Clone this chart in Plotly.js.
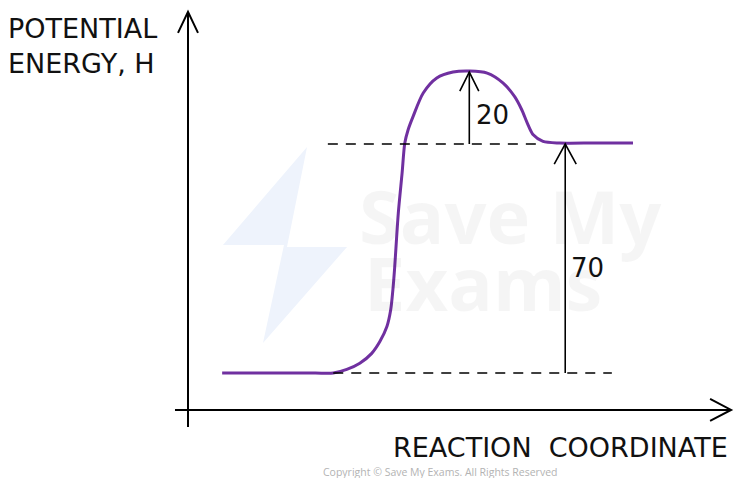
<!DOCTYPE html>
<html>
<head>
<meta charset="utf-8">
<script src="https://cdn.plot.ly/plotly-3.0.1.min.js"></script>
<style>
html,body{margin:0;padding:0;background:#fff;}
#chart{width:734px;height:478px;}
</style>
</head>
<body>
<div id="chart"></div>
<script>
// ---- Data ----
// Reaction coordinate (arbitrary units, axis origin = 0, arrow tip ≈ 100)
const reactionCoord = [6.3, 16.0, 23.5, 26.8, 29.3, 31.7, 33.9, 35.4, 36.7, 37.4, 37.8, 38.1, 38.8, 39.5, 40.0, 40.6, 41.5, 43.4, 45.9, 48.9, 52.0, 55.2, 58.1, 60.3, 61.6, 62.6, 63.7, 65.5, 68.6, 75.0, 82.1];
// Potential energy along the path (relative to reactants)
const energy = [0, 0, 0, 0, 1.1, 3.0, 6.0, 9.6, 14.2, 19.3, 25.4, 31.5, 48.9, 61.1, 70.3, 74.3, 78.3, 85.6, 90.2, 92.0, 92.3, 91.7, 88.7, 84.4, 80.4, 76.4, 72.8, 70.8, 70.3, 70.3, 70.3];
const reactantEnergy = 0;
const productEnergy = 70;
const peakEnergy = 92;
const activationLabel = '20';
const enthalpyLabel = '70';
const activationArrowX = 51.9;
const enthalpyArrowX = 69.6;
const productDashStart = 25.8;
const productDashEnd = 65.5;
const reactantDash = [26.8, 78.2];
const axisXRange = [-2.4, 100.2];
const axisYRange = [-16.5, 110.4];
const axisXLevel = -11.3;
const xTitle = 'REACTION&nbsp;&nbsp;COORDINATE';
const yTitle = 'POTENTIAL<br>ENERGY, H';

// ---- Figure ----
const W = 734, H = 478;
const font = '"DejaVu Sans", Verdana, sans-serif';
const px = (x, y) => [x / W, 1 - y / H];
function paperPath(pts) {
  return pts.map((p, i) => { const q = px(p[0], p[1]); return (i ? 'L' : 'M') + q[0].toFixed(4) + ',' + q[1].toFixed(4); }).join('') + 'Z';
}
function head(x, y, path, w) {
  return {type: 'path', xref: 'x', yref: 'y', xsizemode: 'pixel', ysizemode: 'pixel',
          xanchor: x, yanchor: y, path: path, line: {color: '#000', width: w || 1.6}};
}

const traces = [
  {x: reactionCoord, y: energy, mode: 'lines', line: {color: '#7030a0', width: 3, shape: 'spline', smoothing: 0.8}, hoverinfo: 'skip'}
];

const shapes = [
  // watermark bolt
  {type: 'path', xref: 'paper', yref: 'paper', layer: 'below', line: {width: 0}, fillcolor: '#eef3fc',
   path: paperPath([[307,147],[223,245],[284,245],[263,343],[347,247],[287,247]])},
  // axes
  {type: 'line', xref: 'x', yref: 'y', x0: 0, x1: 0, y0: axisYRange[0], y1: axisYRange[1], line: {color: '#000', width: 2}},
  {type: 'line', xref: 'x', yref: 'y', x0: axisXRange[0], x1: axisXRange[1], y0: axisXLevel, y1: axisXLevel, line: {color: '#000', width: 2}},
  head(0, axisYRange[1], 'M-10,-21L0,0L10,-21', 2),
  head(axisXRange[1], axisXLevel, 'M-21,11L0,0L-21,-11', 2),
  // dashed levels
  {type: 'line', xref: 'x', yref: 'y', x0: productDashStart, x1: productDashEnd, y0: productEnergy, y1: productEnergy, line: {color: '#000', width: 1.6, dash: '10px,8px'}},
  {type: 'line', xref: 'x', yref: 'y', x0: reactantDash[0], x1: reactantDash[1], y0: reactantEnergy, y1: reactantEnergy, line: {color: '#000', width: 1.6, dash: '10px,8px'}},
  // activation arrow
  {type: 'line', xref: 'x', yref: 'y', x0: activationArrowX, x1: activationArrowX, y0: productEnergy, y1: peakEnergy, line: {color: '#000', width: 1.6}},
  head(activationArrowX, peakEnergy, 'M-9.5,-19L0,0L9.5,-19'),
  // enthalpy arrow
  {type: 'line', xref: 'x', yref: 'y', x0: enthalpyArrowX, x1: enthalpyArrowX, y0: reactantEnergy, y1: productEnergy, line: {color: '#000', width: 1.6}},
  head(enthalpyArrowX, productEnergy, 'M-11,-20L0,0L11,-20')
];

const annotations = [
  {xref: 'paper', yref: 'paper', x: 510/W, y: 1 - 215/H, text: '<b>Save My</b>', showarrow: false, font: {family: '"Open Sans", sans-serif', size: 74, color: 'rgba(0,0,0,0.04)'}, xanchor: 'center', yanchor: 'middle'},
  {xref: 'paper', yref: 'paper', x: 362/W, y: 1 - 282/H, text: '<b>Exams</b>', showarrow: false, font: {family: '"Open Sans", sans-serif', size: 74, color: 'rgba(0,0,0,0.04)'}, xanchor: 'left', yanchor: 'middle'},
  {xref: 'paper', yref: 'paper', x: 6/W, y: 1 - 46/H, text: yTitle, showarrow: false, align: 'left', xanchor: 'left', yanchor: 'middle', font: {family: font, size: 27, color: '#111'}},
  {xref: 'paper', yref: 'paper', x: 730/W, y: 1 - 447/H, text: xTitle, showarrow: false, xanchor: 'right', yanchor: 'middle', font: {family: font, size: 27, color: '#111'}},
  {xref: 'x', yref: 'y', x: activationArrowX, y: (productEnergy + peakEnergy) / 2 - 2, text: activationLabel, showarrow: false, xanchor: 'left', yanchor: 'middle', xshift: 5, font: {family: font, size: 26, color: '#111'}},
  {xref: 'x', yref: 'y', x: enthalpyArrowX, y: (reactantEnergy + productEnergy) / 2 - 3, text: enthalpyLabel, showarrow: false, xanchor: 'left', yanchor: 'middle', xshift: 4, font: {family: font, size: 26, color: '#111'}},
  {xref: 'paper', yref: 'paper', x: 440/W, y: 1 - 472/H, text: 'Copyright © Save My Exams. All Rights Reserved', showarrow: false, xanchor: 'center', yanchor: 'middle', font: {family: '"Open Sans", sans-serif', size: 10.5, color: '#b3b3b3'}}
];

const layout = {
  width: W, height: H,
  margin: {l: 0, r: 0, t: 0, b: 0},
  paper_bgcolor: '#fff', plot_bgcolor: 'rgba(0,0,0,0)',
  showlegend: false,
  xaxis: {range: [-188/5.42, (W-188)/5.42], visible: false, fixedrange: true},
  yaxis: {range: [-(H-373)/3.271, 373/3.271], visible: false, fixedrange: true},
  shapes: shapes,
  annotations: annotations
};

Plotly.newPlot('chart', traces, layout, {staticPlot: true, displayModeBar: false});
</script>
</body>
</html>
